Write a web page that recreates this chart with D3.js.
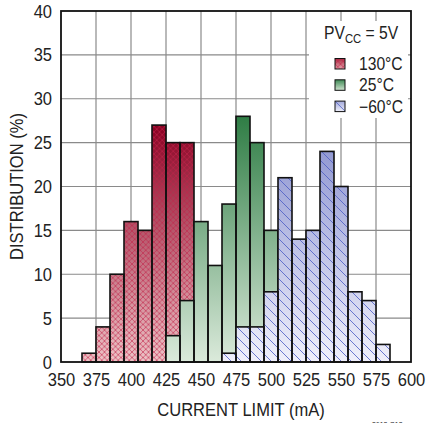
<!DOCTYPE html>
<html>
<head>
<meta charset="utf-8">
<script src="https://cdn.jsdelivr.net/npm/d3@7"></script>
<style>
  body { margin: 0; background: #fff; }
  text { font-family: "Liberation Sans", Arial, sans-serif; fill: #222; }
</style>
</head>
<body>
<div id="chart"></div>
<script>
// bin left edges (mA), 10 mA wide bins
const binStart130 = [365, 375, 385, 395, 405, 415, 425, 435];
const dist130 = [1, 4, 10, 16, 15, 27, 25, 25];

const binStart25 = [425, 435, 445, 455, 465, 475, 485, 495];
const dist25 = [3, 7, 16, 11, 18, 28, 25, 15];

const binStartM60 = [465, 475, 485, 495, 505, 515, 525, 535, 545, 555, 565, 575];
const distM60 = [1, 4, 4, 8, 21, 14, 15, 24, 20, 8, 7, 2];

const binWidth = 10;
const xTicks = [350, 375, 400, 425, 450, 475, 500, 525, 550, 575, 600];
const yTicks = [0, 5, 10, 15, 20, 25, 30, 35, 40];
const legendLabels = ["130°C", "25°C", "\u221260°C"];

const W = 427, H = 423;
const margin = { top: 11, right: 16, bottom: 61, left: 61 };
const narrow = 0.87; // horizontal squeeze to mimic a condensed face

const svg = d3.select("#chart").append("svg")
  .attr("width", W)
  .attr("height", H);

const x = d3.scaleLinear().domain([350, 600]).range([margin.left, W - margin.right]);
const y = d3.scaleLinear().domain([0, 40]).range([H - margin.bottom, margin.top]);

// condensed text placed at (px, py)
function ctext(parent, px, py, str, size, anchor) {
  return parent.append("text")
    .attr("transform", "translate(" + px + "," + py + ") scale(" + narrow + ",1)")
    .attr("text-anchor", anchor || "start")
    .style("font-size", size + "px")
    .text(str);
}

const defs = svg.append("defs");

// gradients (absolute, from baseline to top of tallest bar)
function gradient(id, top, bottom, yTop, bbox) {
  const g = defs.append("linearGradient").attr("id", id);
  if (bbox) {
    g.attr("x1", 0).attr("y1", 0).attr("x2", 0).attr("y2", 1);
  } else {
    g.attr("gradientUnits", "userSpaceOnUse")
      .attr("x1", 0).attr("x2", 0)
      .attr("y1", y(yTop)).attr("y2", y(0));
  }
  g.append("stop").attr("offset", 0).attr("stop-color", top);
  g.append("stop").attr("offset", 1).attr("stop-color", bottom);
}
gradient("gRed", "#8a0022", "#edc3c6", 27);
gradient("gGreen", "#2f7d45", "#dbeadb", 28);
gradient("gBlue", "#939ad3", "#f0f0fb", 24);
gradient("gRedL", "#a8283f", "#e6a9b0", 0, true);
gradient("gGreenL", "#3f8a55", "#cfe3cf", 0, true);
gradient("gBlueL", "#a3a9dc", "#eeeffa", 0, true);

// crosshatch for 130°C
const cross = defs.append("pattern").attr("id", "pCross")
  .attr("patternUnits", "userSpaceOnUse")
  .attr("width", 5.5).attr("height", 5.5);
cross.append("path").attr("d", "M0,0L5.5,5.5M5.5,0L0,5.5")
  .attr("stroke", "#c2244a").attr("stroke-width", 0.8).attr("stroke-opacity", 0.75);

// diagonal lines for -60°C
const diag = defs.append("pattern").attr("id", "pDiag")
  .attr("patternUnits", "userSpaceOnUse")
  .attr("width", 10).attr("height", 10);
diag.append("path").attr("d", "M-1,-1L11,11M-6,4L6,16M4,-6L16,6")
  .attr("stroke", "#4a5cc4").attr("stroke-width", 0.8);

// grid
svg.append("g").selectAll("line.h")
  .data(yTicks.slice(1, -1)).enter().append("line")
  .attr("x1", x(350)).attr("x2", x(600))
  .attr("y1", d => y(d)).attr("y2", d => y(d))
  .attr("stroke", "#8a8a8a").attr("stroke-width", 1.2);
svg.append("g").selectAll("line.v")
  .data(xTicks.slice(1, -1)).enter().append("line")
  .attr("x1", d => x(d)).attr("x2", d => x(d))
  .attr("y1", y(0)).attr("y2", y(40))
  .attr("stroke", "#8a8a8a").attr("stroke-width", 1.2);

// legend box blanks the grid behind it
svg.append("rect")
  .attr("x", 309).attr("y", 21).attr("width", 99).attr("height", 97)
  .attr("fill", "#fff");

// bars
function drawSeries(starts, vals, fill, pattern) {
  const data = starts.map((s, i) => ({ s: s, v: vals[i] }));
  const g = svg.append("g");
  g.selectAll("rect.f").data(data).enter().append("rect")
    .attr("x", d => x(d.s)).attr("width", d => x(d.s + binWidth) - x(d.s))
    .attr("y", d => y(d.v)).attr("height", d => y(0) - y(d.v))
    .attr("fill", fill);
  if (pattern) {
    g.selectAll("rect.p").data(data).enter().append("rect")
      .attr("x", d => x(d.s)).attr("width", d => x(d.s + binWidth) - x(d.s))
      .attr("y", d => y(d.v)).attr("height", d => y(0) - y(d.v))
      .attr("fill", pattern);
  }
  g.selectAll("rect.s").data(data).enter().append("rect")
    .attr("x", d => x(d.s)).attr("width", d => x(d.s + binWidth) - x(d.s))
    .attr("y", d => y(d.v)).attr("height", d => y(0) - y(d.v))
    .attr("fill", "none").attr("stroke", "#111").attr("stroke-width", 1.6);
}
drawSeries(binStart130, dist130, "url(#gRed)", "url(#pCross)");
drawSeries(binStart25, dist25, "url(#gGreen)", null);
drawSeries(binStartM60, distM60, "url(#gBlue)", "url(#pDiag)");

// frame
svg.append("rect")
  .attr("x", x(350)).attr("y", y(40))
  .attr("width", x(600) - x(350)).attr("height", y(0) - y(40))
  .attr("fill", "none").attr("stroke", "#111").attr("stroke-width", 1.8);

// axes labels
const xAxis = d3.axisBottom(x).tickValues(xTicks).tickSize(0).tickPadding(11);
const gx = svg.append("g").attr("transform", "translate(0," + y(0) + ")").call(xAxis);
gx.select(".domain").remove();
gx.selectAll("text").style("font-size", "19px").attr("fill", "#222")
  .attr("font-family", null)
  .attr("transform", "scale(" + narrow + ",1)");
gx.attr("font-family", null);

const yAxis = d3.axisLeft(y).tickValues(yTicks).tickSize(0).tickPadding(9);
const gy = svg.append("g").attr("transform", "translate(" + x(350) + ",0)").call(yAxis);
gy.select(".domain").remove();
gy.attr("font-family", null);
gy.selectAll("text").style("font-size", "19px").attr("fill", "#222")
  .attr("x", -9 / narrow)
  .attr("transform", "scale(" + narrow + ",1)");

ctext(svg, (x(350) + x(600)) / 2 + 5, 416, "CURRENT LIMIT (mA)", 19, "middle");

svg.append("text")
  .attr("transform", "translate(23," + ((y(0) + y(40)) / 2) + ") rotate(-90) scale(" + narrow + ",1)")
  .attr("text-anchor", "middle").style("font-size", "19px")
  .text("DISTRIBUTION (%)");

ctext(svg, 372, 426.5, "3612 G13", 8);

// legend
const title = svg.append("text")
  .attr("transform", "translate(324,38.5) scale(" + narrow + ",1)")
  .style("font-size", "18px");
title.append("tspan").text("PV");
title.append("tspan").attr("dy", 4).style("font-size", "13px").text("CC");
title.append("tspan").attr("dy", -4).text(" = 5V");

const legFill = ["url(#gRedL)", "url(#gGreenL)", "url(#gBlueL)"];
const legPat = ["url(#pCross)", null, "url(#pDiag)"];
const leg = svg.selectAll(".legend").data(legendLabels).enter().append("g")
  .attr("class", "legend")
  .attr("transform", (d, i) => "translate(335," + (58.5 + i * 21.3) + ")");
leg.append("rect").attr("width", 10).attr("height", 10.5)
  .attr("fill", (d, i) => legFill[i]);
leg.filter((d, i) => legPat[i] != null).append("rect").attr("width", 10).attr("height", 10.5)
  .attr("fill", d => legPat[legendLabels.indexOf(d)]);
leg.append("rect").attr("width", 10).attr("height", 10.5)
  .attr("fill", "none").attr("stroke", "#111").attr("stroke-width", 1);
leg.each(function(d) {
  ctext(d3.select(this), 24, 11.5, d, 18);
});
</script>
</body>
</html>
